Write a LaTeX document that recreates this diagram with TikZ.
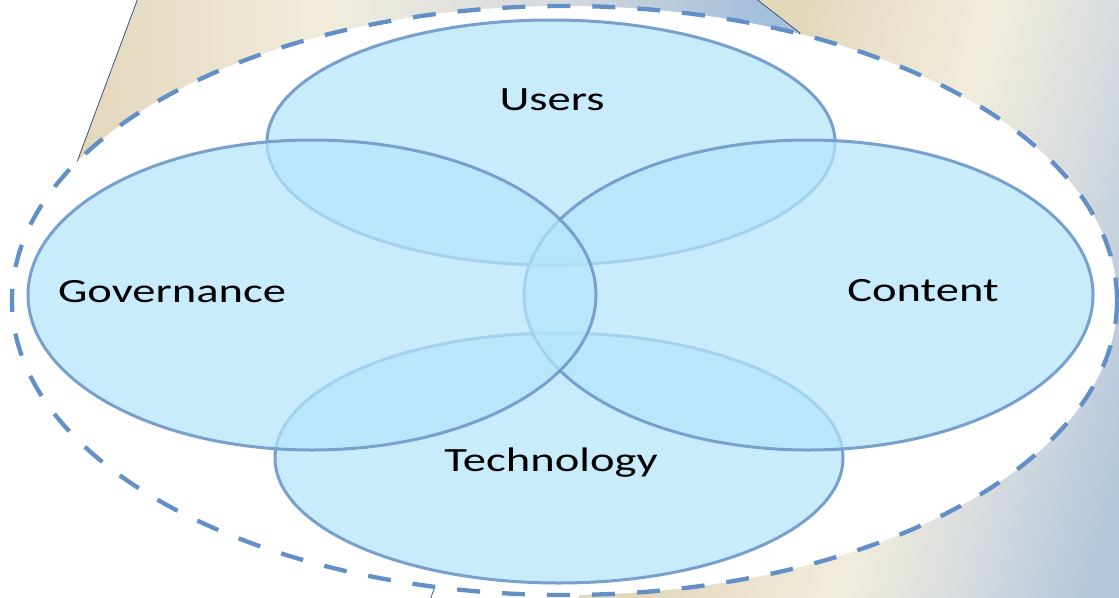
\documentclass[tikz,border=0pt]{standalone}
\usepackage{fontspec}
\setmainfont{Carlito}
\usetikzlibrary{shapes.geometric}
\definecolor{bgBeige}{RGB}{227,215,187}
\definecolor{bgLight}{RGB}{241,237,221}
\definecolor{bgGray}{RGB}{212,218,222}
\definecolor{bgBlue}{RGB}{165,192,220}
\definecolor{bgBlueGray}{RGB}{178,198,220}
\definecolor{vennFill}{RGB}{180,229,251}
\definecolor{vennEdge}{RGB}{120,160,207}
\definecolor{dashBlue}{RGB}{98,143,198}
\definecolor{edgeDark}{RGB}{55,85,125}
\newcommand\setStripL[1]{%
  \ifdim #1pt<330pt
    \pgfmathsetmacro\myPct{max(0,min(100,(330-#1)/253*100))}%
    \colorlet{stripc}{bgBeige!\myPct!bgLight}%
  \else\ifdim #1pt<550pt
    \pgfmathsetmacro\myPct{max(0,min(100,(550-#1)/220*100))}%
    \colorlet{stripc}{bgLight!\myPct!bgGray}%
  \else
    \pgfmathsetmacro\myPct{max(0,min(100,(755-#1)/205*100))}%
    \colorlet{stripc}{bgGray!\myPct!bgBlue}%
  \fi\fi}
\newcommand\setStripR[1]{%
  \ifdim #1pt<800pt
    \colorlet{stripc}{bgBeige}%
  \else\ifdim #1pt<1000pt
    \pgfmathsetmacro\myPct{max(0,min(100,(1000-#1)/200*100))}%
    \colorlet{stripc}{bgBeige!\myPct!bgLight}%
  \else\ifdim #1pt<1130pt
    \pgfmathsetmacro\myPct{max(0,min(100,(1130-#1)/130*100))}%
    \colorlet{stripc}{bgLight!\myPct!bgGray}%
  \else
    \pgfmathsetmacro\myPct{max(0,min(100,(1250-#1)/120*100))}%
    \colorlet{stripc}{bgGray!\myPct!bgBlueGray}%
  \fi\fi\fi}
\tikzset{
  venn/.style={ellipse, draw=vennEdge, line width=3pt, fill=vennFill, fill opacity=0.73, inner sep=0pt},
  lbl/.style={font=\fontsize{34}{40}\selectfont, anchor=base, inner sep=0pt, text=black},
  edgeline/.style={draw=edgeDark, line width=0.8pt}
}
\begin{document}
\begin{tikzpicture}[x=1pt,y=-1pt]
\useasboundingbox (0,0) rectangle (1119,597);
% left background piece
\begin{scope}
  \clip (138,-2) -- (755,-2) -- (800,33) -- (560,250) -- (300,420) -- (77,162) -- cycle;
  \foreach \i in {0,...,183}{%
    \pgfmathsetmacro\uu{76+4*\i}%
    \setStripL{\uu}%
    \fill[stripc] (\uu,-3) rectangle ({\uu+4.8},430);
  }
\end{scope}
% right background piece
\begin{scope}
  \clip (755,-2) -- (1122,-2) -- (1122,600) -- (430,600) -- (560,250) -- (800,33) -- cycle;
  \foreach \i in {0,...,140}{%
    \pgfmathsetmacro\uu{740+4*\i}%
    \setStripR{\uu}%
    \fill[stripc] (\uu,-3) -- ({\uu+4.8},-3) -- ({\uu+4.8-162},600) -- ({\uu-162},600) -- cycle;
  }
\end{scope}
\draw[edgeline] (138,-2) -- (77,162) -- (300,420);
\draw[edgeline] (755,-2) -- (800,33) -- (560,250);
\draw[edgeline] (430,600) -- (560,250);
% outer dashed ellipse
\node[ellipse, draw=dashBlue, fill=white, line width=4.3pt, dash pattern=on 23pt off 22pt,
      minimum width=1105pt, minimum height=589pt, inner sep=0pt] (outer) at (564.5,300.5) {};
% venn ellipses
\node[venn, minimum width=568pt, minimum height=245pt] (users) at (551,142.5) {};
\node[venn, minimum width=568pt, minimum height=250pt] (tech) at (559,458) {};
\node[venn, minimum width=569pt, minimum height=310pt] (content) at (808.5,295) {};
\node[venn, minimum width=568pt, minimum height=310pt] (gov) at (312,295) {};
% labels
\node[lbl] (lusers) at (552,110) {\scalebox{1.37}[1]{Users}};
\node[lbl] (lgov) at (172,302) {\scalebox{1.37}[1]{Governance}};
\node[lbl] (lcontent) at (923,301) {\scalebox{1.37}[1]{Content}};
\node[lbl] (ltech) at (551,471) {\scalebox{1.37}[1]{Technology}};
\end{tikzpicture}
\end{document}
